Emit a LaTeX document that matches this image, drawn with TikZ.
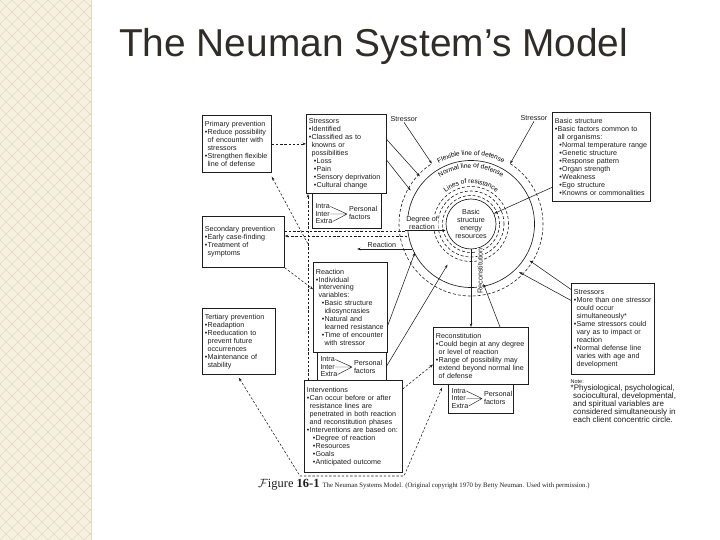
\documentclass[tikz,border=0pt]{standalone}
\usepackage{fontspec}
\setmainfont{Liberation Sans}
\newfontfamily\capserif{Liberation Serif}
\usepackage{tikz}
\usetikzlibrary{positioning,calc,arrows.meta,shadows,decorations.text}

\definecolor{stripcream}{RGB}{246,240,224}
\definecolor{stripline}{RGB}{229,218,190}
\definecolor{titleink}{RGB}{48,44,40}
\definecolor{ink}{RGB}{30,30,30}

\newcommand{\dfont}{\fontsize{7.2}{8}\selectfont}
\newcommand{\rfont}{\fontsize{6.6}{8}\selectfont}
\newcommand{\bul}{\textbullet\kern0.3bp}
\newcommand{\indt}[1]{\hspace*{#1bp}}

\begin{document}
\begin{tikzpicture}[x=1bp, y=-1bp, >={Stealth[length=3.6bp,width=2.6bp]},
  panel/.style={draw=ink, line width=0.7bp, fill=white, anchor=north west, align=left, font=\dfont, text=ink, inner xsep=2.5bp, inner ysep=1bp, drop shadow={shadow xshift=0.8bp, shadow yshift=-0.8bp, fill=ink, opacity=1}},
  factorbox/.style={draw=ink, line width=0.5bp, fill=white, anchor=north west, inner sep=0pt},
  pftext/.style={font=\dfont, text=ink, inner sep=0.3bp, anchor=west, align=left},
  lbl/.style={font=\dfont, text=ink, inner sep=0.6bp, align=center},
  wire/.style={draw=ink, line width=0.55bp},
  dashline/.style={draw=ink, line width=0.55bp, dash pattern=on 2.4bp off 1.8bp},
  ringdash/.style={draw=ink, line width=0.6bp, dash pattern=on 3bp off 2bp},
  ringsolid/.style={draw=ink, line width=0.65bp}]

\useasboundingbox (0,0) rectangle (720,540);
\fill[white] (0,0) rectangle (720,540);

% slide strip
\fill[stripcream] (0,0) rectangle (91,540);
\begin{scope}
  \clip (0,0) rectangle (91,540);
  \foreach \k in {-96,-84,...,636}
    \draw[stripline, line width=0.5bp] (0,\k) -- (91,\k+91) (0,\k) -- (91,\k-91);
\end{scope}
\draw[stripline, line width=0.8bp] (91,0) -- (91,540);

\node[anchor=base west, inner sep=0pt, font=\fontsize{39}{44}\selectfont, text=titleink] (title) at (119,57) {The Neuman System’s Model};

% rings
\coordinate (ctr) at (471,224);
\draw[ringdash] ($(ctr)+(57:72bp)$) arc[start angle=57, end angle=-237, radius=72bp];
\draw[ringsolid] (ctr) circle[radius=63.5bp];
\draw[ringdash] (ctr) circle[radius=37.5bp];
\draw[ringdash] (ctr) circle[radius=33bp];
\draw[ringdash] (ctr) circle[radius=28.5bp];
\path[decorate, decoration={text along path, text align=center, text={|\rfont|Flexible line of defense}}] ($(ctr)+(160:69bp)$) arc[start angle=160, end angle=20, radius=69bp];
\path[decorate, decoration={text along path, text align=center, text={|\rfont|Normal line of defense}}] ($(ctr)+(160:56bp)$) arc[start angle=160, end angle=20, radius=56bp];
\path[decorate, decoration={text along path, text align=center, text={|\rfont|Lines of resistance}}] ($(ctr)+(160:40.5bp)$) arc[start angle=160, end angle=20, radius=40.5bp];
\node[draw=ink, circle, fill=white, line width=0.65bp, minimum size=50bp, inner sep=0pt, font=\dfont, text=ink, align=center] (core) at (ctr) {Basic\\structure\\energy\\resources};

% personal factors boxes
\node[factorbox, minimum width=69bp, minimum height=35bp] (pfs) at (312,193) {};
\node[factorbox, minimum width=69bp, minimum height=28bp] (pfr) at (317,352) {};
\node[factorbox, minimum width=65bp, minimum height=29bp] (pfc) at (448,384) {};

% boxes
\node[panel, text width=64bp, minimum height=57bp] (prim) at (202,115) {Primary prevention\\ \bul Reduce possibility\\ \indt{2.8}of encounter with\\ \indt{2.8}stressors\\ \bul Strengthen flexible\\ \indt{2.8}line of defense};
\node[panel, text width=77bp, minimum height=51bp] (sec) at (202,216) {Secondary prevention\\ \bul Early case-finding\\ \bul Treatment of\\ \indt{2.8}symptoms};
\node[panel, text width=68bp, minimum height=66bp] (tert) at (202,308) {Tertiary prevention\\ \bul Readaption\\ \bul Reeducation to\\ \indt{2.8}prevent future\\ \indt{2.8}occurrences\\ \bul Maintenance of\\ \indt{2.8}stability};
\node[panel, text width=75bp, minimum height=79bp] (stress) at (306,114) {Stressors\\ \bul Identified\\ \bul Classified as to\\ \indt{2.8}knowns or\\ \indt{2.8}possibilities\\ \indt{5}\bul Loss\\ \indt{5}\bul Pain\\ \indt{5}\bul Sensory deprivation\\ \indt{5}\bul Cultural change};
\node[panel, text width=93bp, minimum height=89bp] (basic) at (552,112) {Basic structure\\ \bul Basic factors common to\\ \indt{2.8}all organisms:\\ \indt{4.5}\bul Normal temperature range\\ \indt{4.5}\bul Genetic structure\\ \indt{4.5}\bul Response pattern\\ \indt{4.5}\bul Organ strength\\ \indt{4.5}\bul Weakness\\ \indt{4.5}\bul Ego structure\\ \indt{4.5}\bul Knowns or commonalities};
\node[panel, text width=69bp, minimum height=90bp] (react) at (313,262) {Reaction\\ \bul Individual\\ \indt{2.8}intervening\\ \indt{2.8}variables:\\ \indt{6}\bul Basic structure\\ \indt{8.8}idiosyncrasies\\ \indt{6}\bul Natural and\\ \indt{8.8}learned resistance\\ \indt{6}\bul Time of encounter\\ \indt{8.8}with stressor};
\node[panel, text width=93bp, minimum height=92bp] (interv) at (304,380) {Interventions\\ \bul Can occur before or after\\ \indt{2.8}resistance lines are\\ \indt{2.8}penetrated in both reaction\\ \indt{2.8}and reconstitution phases\\ \bul Interventions are based on:\\ \indt{6}\bul Degree of reaction\\ \indt{6}\bul Resources\\ \indt{6}\bul Goals\\ \indt{6}\bul Anticipated outcome};
\node[panel, text width=90bp, minimum height=57bp] (recon) at (433,327) {Reconstitution\\ \bul Could begin at any degree\\ \indt{2.8}or level of reaction\\ \bul Range of possibility may\\ \indt{2.8}extend beyond normal line\\ \indt{2.8}of defense};
\node[panel, text width=78bp, minimum height=91bp] (stressr) at (571,283) {Stressors\\ \bul More than one stressor\\ \indt{2.8}could occur\\ \indt{2.8}simultaneously*\\ \bul Same stressors could\\ \indt{2.8}vary as to impact or\\ \indt{2.8}reaction\\ \bul Normal defense line\\ \indt{2.8}varies with age and\\ \indt{2.8}development};

% personal factors contents
\node[pftext] (intras) at (315,206.5) {Intra};
\node[pftext] (inters) at (315,214) {Inter};
\node[pftext] (extras) at (315,221.5) {Extra};
\coordinate (joins) at (347,214);
\node[pftext] (pers) at (348.5,213) {Personal\\factors};
\draw[wire, line width=0.45bp] (intras.east) -- (joins) (inters.east) -- (joins) (extras.east) -- (joins);

\node[pftext] (intrar) at (320,359.5) {Intra};
\node[pftext] (interr) at (320,367) {Inter};
\node[pftext] (extrar) at (320,374.5) {Extra};
\coordinate (joinr) at (352,367);
\node[pftext] (perr) at (353.5,366.5) {Personal\\factors};
\draw[wire, line width=0.45bp] (intrar.east) -- (joinr) (interr.east) -- (joinr) (extrar.east) -- (joinr);

\node[pftext] (intrac) at (451,391) {Intra};
\node[pftext] (interc) at (451,398.5) {Inter};
\node[pftext] (extrac) at (451,406) {Extra};
\coordinate (joinc) at (482,398.5);
\node[pftext] (perc) at (483.5,398) {Personal\\factors};
\draw[wire, line width=0.45bp] (intrac.east) -- (joinc) (interc.east) -- (joinc) (extrac.east) -- (joinc);

% stressors
\node[lbl] (strA) at (404,119) {Stressor};
\node[lbl] (strB) at (534,118) {Stressor};
\coordinate (flexL) at ($(ctr)+(123:72bp)$);
\coordinate (flexR) at ($(ctr)+(57:72bp)$);
\draw[wire,->] (strA.south) -- (flexL);
\draw[wire,->] (strB.south) -- (flexR);
\coordinate (hitA) at ($(ctr)+(137:70bp)$);
\coordinate (hitB) at ($(ctr)+(151:69bp)$);
\draw[wire,->] ($(stress.north east)!0.32!(stress.south east)$) -- (hitA);
\draw[wire,->] ($(stress.north east)!0.58!(stress.south east)$) -- (hitB);
\draw[wire,->] ($(basic.south west)!0.16!(basic.north west)$) -- (core);
\coordinate (hitC) at ($(ctr)+(-32:69bp)$);
\coordinate (hitD) at ($(ctr)+(-45:68bp)$);
\draw[wire,->] ($(stressr.north west)!0.07!(stressr.south west)$) -- (hitC);
\draw[wire,->] ($(stressr.north west)!0.19!(stressr.south west)$) -- (hitD);

% reaction
\node[lbl, fill=white] (deglbl) at (422,223) {Degree of\\reaction};
\draw[wire,->] (deglbl.south west) -- (deglbl.south west -| core.west);
\coordinate (reactR) at ($(ctr)+(203:64bp)$);
\coordinate (reactL) at ($(reactR)+(-55bp,0)$);
\draw[wire,->] (reactR) -- (reactL);
\node[lbl, above=0.6bp] (reactlbl) at ($(reactR)!0.55!(reactL)$) {Reaction};
\coordinate (degA) at ($(ctr)+(207:63bp)$);
\draw[wire,->] ($(react.north east)!0.7!(react.south east)$) -- (degA);
\coordinate (coreB) at ($(ctr)+(240:47bp)$);
\draw[wire,->] (pfr.east) -- (coreB);

% reconstitution
\node[lbl, fill=white, rotate=90] (reconlbl) at (480,271) {Reconstitution};
\draw[wire,->] (core.south) -- (core.south |- recon.north);
\draw[wire,->] ($(recon.north west)!0.7!(recon.north east)$) -- ($(reconlbl.south west)!0.45!(reconlbl.south)$);

% prevention links
\coordinate (vtop) at (308,194);
\coordinate (vbot) at (308,380);
\coordinate (vlow) at (308,244);
\draw[dashline,->] (vbot) -- (vtop);
\draw[dashline,->] (prim.east) -- (prim.east -| stress.west);
\draw[dashline,<-] ([yshift=-4bp]prim.south east) -- (vlow);
\coordinate (degin) at (405,231);
\coordinate (degout) at (407,236);
\draw[dashline] (sec.east |- degin) -- (degin);
\draw[dashline,->] (degout) -- (sec.east |- degout);
\draw[dashline,->] (sec.south east) -- ($(react.north west)!0.3!(react.south west)$);
\coordinate (loopL) at (300,476);
\coordinate (loopR) at (404,476);
\draw[dashline,<->] ([yshift=-3bp]tert.south) -- (loopL) -- (loopR) -- ([xshift=9bp,yshift=-3bp]recon.south west);
\draw[dashline,->] ([yshift=-9bp]interv.north east) -- ($(recon.north west)!0.65!(recon.south west)$);

% note and caption
\node[anchor=north west, align=left, inner sep=0pt, font=\fontsize{8}{8}\selectfont, text=ink] (note) at (570.5,380) {{\fontsize{5.5}{6}\selectfont Note:}\\[-1.5bp]*Physiological, psychological,\\ \indt{2.5}sociocultural, developmental,\\ \indt{2.5}and spiritual variables are\\ \indt{2.5}considered simultaneously in\\ \indt{2.5}each client concentric circle.};
\node[anchor=base west, inner sep=0pt, font=\capserif, text=ink] (cap) at (258,487) {{\fontsize{12.5}{14}\selectfont $\mathcal{F}$igure \textbf{16-1}}\hspace{3bp}{\fontsize{6.8}{8}\selectfont The Neuman Systems Model. (Original copyright 1970 by Betty Neuman. Used with permission.)}};
\end{tikzpicture}
\end{document}
